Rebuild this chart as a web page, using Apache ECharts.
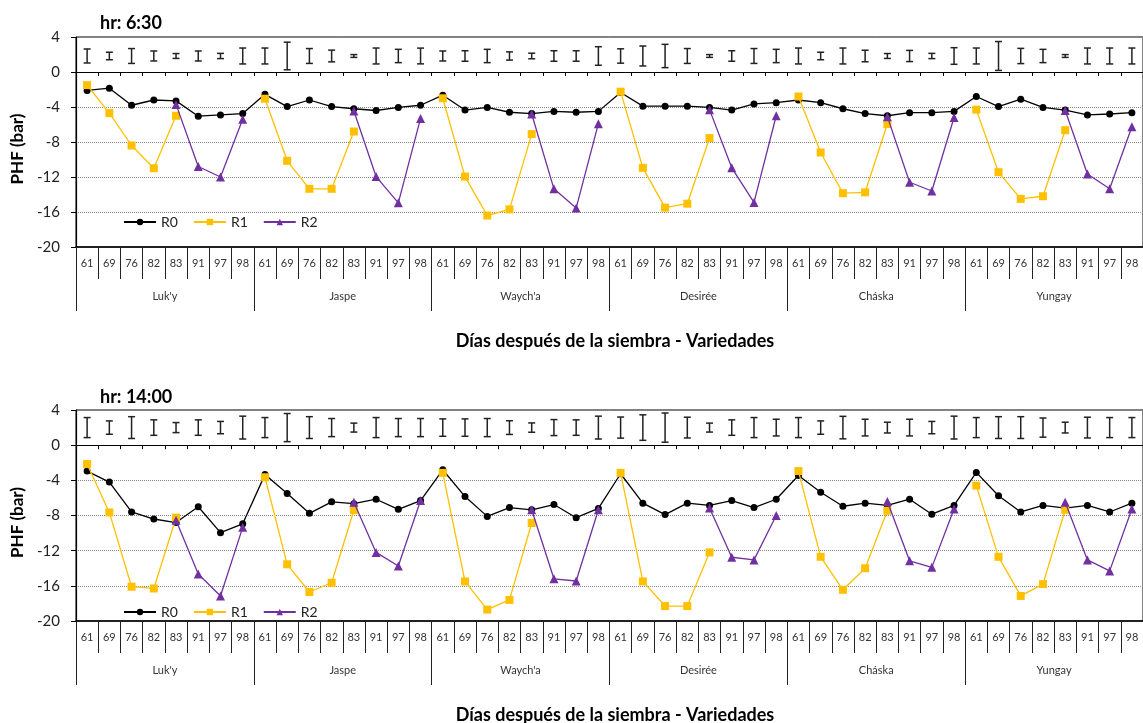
<!DOCTYPE html>
<html>
<head>
<meta charset="utf-8">
<script src="https://cdn.jsdelivr.net/npm/echarts@6/dist/echarts.min.js"></script>
<style>
  html, body { margin: 0; padding: 0; background: #fff; }
  #chart { width: 1143px; height: 723px; }
</style>
</head>
<body>
<div id="chart"></div>
<script>
// Sampling days and potato varieties (two-level category axis)
const days = ['61', '69', '76', '82', '83', '91', '97', '98'];
const varieties = ["Luk'y", 'Jaspe', "Waych'a", 'Desirée', 'Cháska', 'Yungay'];
const seriesNames = ['R0', 'R1', 'R2'];

// hr 6:30 — leaf water potential (bar)
const r0Morning = [
  -2.1, -1.85, -3.8, -3.2, -3.3, -5.05, -4.9, -4.75,
  -2.55, -3.95, -3.2, -3.95, -4.2, -4.4, -4.05, -3.8,
  -2.65, -4.35, -4.05, -4.6, -4.75, -4.5, -4.6, -4.5,
  -2.35, -3.9, -3.9, -3.9, -4.05, -4.35, -3.65, -3.5,
  -3.2, -3.5, -4.2, -4.75, -5.0, -4.65, -4.65, -4.5,
  -2.8, -3.95, -3.1, -4.05, -4.35, -4.9, -4.8, -4.65
];
const r1Morning = [
  -1.5, -4.7, -8.4, -11.0, -5.0, null, null, null,
  -3.05, -10.15, -13.35, -13.35, -6.8, null, null, null,
  -3.0, -11.95, -16.4, -15.7, -7.1, null, null, null,
  -2.25, -10.95, -15.5, -15.05, -7.55, null, null, null,
  -2.8, -9.2, -13.85, -13.75, -5.95, null, null, null,
  -4.3, -11.45, -14.5, -14.2, -6.65, null, null, null
];
const r2Morning = [
  null, null, null, null, -3.7, -10.8, -12.0, -5.4,
  null, null, null, null, -4.45, -11.95, -14.95, -5.3,
  null, null, null, null, -4.8, -13.35, -15.55, -5.9,
  null, null, null, null, -4.3, -10.95, -14.9, -5.0,
  null, null, null, null, -5.1, -12.6, -13.6, -5.2,
  null, null, null, null, -4.4, -11.65, -13.35, -6.25
];
// LSD bars drawn in the band above zero: centre and half-width
const lsdCentreMorning = 1.83;
const lsdHalfMorning = [
  0.8, 0.43, 0.85, 0.57, 0.28, 0.57, 0.3, 0.91,
  0.91, 1.58, 0.85, 0.67, 0.16, 0.91, 0.76, 0.9,
  0.57, 0.6, 0.76, 0.47, 0.32, 0.6, 0.6, 1.06,
  0.82, 1.14, 1.33, 0.85, 0.16, 0.6, 0.85, 0.76,
  0.91, 0.43, 0.91, 0.66, 0.28, 0.64, 0.3, 0.95,
  0.91, 1.65, 0.87, 0.76, 0.16, 0.91, 0.91, 0.91
];

// hr 14:00
const r0Afternoon = [
  -2.95, -4.2, -7.6, -8.4, -8.8, -7.0, -9.95, -8.95,
  -3.35, -5.5, -7.75, -6.45, -6.65, -6.15, -7.3, -6.3,
  -2.8, -5.85, -8.1, -7.1, -7.35, -6.75, -8.25, -7.2,
  -3.25, -6.6, -7.9, -6.6, -6.85, -6.3, -7.1, -6.15,
  -3.45, -5.35, -6.95, -6.6, -6.85, -6.15, -7.85, -6.85,
  -3.1, -5.75, -7.6, -6.85, -7.15, -6.85, -7.6, -6.6
];
const r1Afternoon = [
  -2.15, -7.65, -16.1, -16.3, -8.25, null, null, null,
  -3.65, -13.55, -16.7, -15.65, -7.4, null, null, null,
  -3.15, -15.5, -18.7, -17.6, -8.85, null, null, null,
  -3.15, -15.5, -18.3, -18.3, -12.2, null, null, null,
  -2.95, -12.7, -16.45, -14.0, -7.45, null, null, null,
  -4.6, -12.7, -17.15, -15.8, -7.35, null, null, null
];
const r2Afternoon = [
  null, null, null, null, -8.55, -14.65, -17.15, -9.35,
  null, null, null, null, -6.5, -12.2, -13.75, -6.3,
  null, null, null, null, -7.35, -15.2, -15.45, -7.35,
  null, null, null, null, -7.15, -12.75, -13.05, -8.0,
  null, null, null, null, -6.4, -13.15, -13.9, -7.25,
  null, null, null, null, -6.5, -13.05, -14.3, -7.25
];
const lsdCentreAfternoon = 2.0;
const lsdHalfAfternoon = [
  1.14, 0.76, 1.24, 0.88, 0.57, 0.88, 0.7, 1.3,
  1.14, 1.6, 1.24, 1.03, 0.51, 1.14, 1.03, 1.03,
  0.99, 0.99, 1.03, 0.78, 0.53, 0.91, 0.88, 1.3,
  1.2, 1.45, 1.66, 1.18, 0.51, 0.88, 1.14, 0.95,
  1.14, 0.76, 1.28, 0.95, 0.61, 0.95, 0.7, 1.3,
  1.14, 1.24, 1.24, 1.09, 0.61, 1.18, 1.14, 1.14
];

const FONT = 'Lato, "Noto Sans", sans-serif';
const categories = varieties.flatMap(v => days.map(d => v + '|' + d));

const panels = [
  { top: 37, height: 210, title: 'hr: 6:30', titleTop: 9, legendTop: 210, axisTitleTop: 327,
    r0: r0Morning, r1: r1Morning, r2: r2Morning, lsdCentre: lsdCentreMorning, lsdHalf: lsdHalfMorning },
  { top: 410, height: 211, title: 'hr: 14:00', titleTop: 383, legendTop: 600, axisTitleTop: 701,
    r0: r0Afternoon, r1: r1Afternoon, r2: r2Afternoon, lsdCentre: lsdCentreAfternoon, lsdHalf: lsdHalfAfternoon }
];

const option = {
  animation: false,
  backgroundColor: '#fff',
  textStyle: { fontFamily: FONT },
  title: [], grid: [], xAxis: [], yAxis: [], legend: [], series: []
};

function lsdBar(params, api) {
  const x = api.value(0);
  const lo = api.coord([x, api.value(1)]);
  const hi = api.coord([x, api.value(2)]);
  const cap = 3.5;
  const style = { stroke: '#222', lineWidth: 1.5 };
  return {
    type: 'group',
    children: [
      { type: 'line', shape: { x1: lo[0], y1: lo[1], x2: hi[0], y2: hi[1] }, style },
      { type: 'line', shape: { x1: lo[0] - cap, y1: lo[1], x2: lo[0] + cap, y2: lo[1] }, style },
      { type: 'line', shape: { x1: hi[0] - cap, y1: hi[1], x2: hi[0] + cap, y2: hi[1] }, style }
    ]
  };
}

panels.forEach((p, gi) => {
  option.title.push({
    text: p.title, left: 95, top: p.titleTop,
    textStyle: { fontFamily: FONT, fontSize: 18, fontWeight: 'bold', color: '#000' }
  });
  option.title.push({
    text: 'Días después de la siembra - Variedades', left: 610, textAlign: 'center', top: p.axisTitleTop,
    textStyle: { fontFamily: FONT, fontSize: 18, fontWeight: 'bold', color: '#000' }
  });
  option.grid.push({
    left: 76, top: p.top, width: 1068, height: p.height,
    show: true, borderColor: '#000', borderWidth: 1, backgroundColor: 'transparent'
  });
  // zero line with short ticks
  option.xAxis.push({
    gridIndex: gi, type: 'category', data: categories, position: 'bottom',
    axisLine: { onZero: true, lineStyle: { color: '#000', width: 1.2 } },
    axisTick: { show: true, interval: 0, length: 4, lineStyle: { color: '#000' } },
    axisLabel: { show: false }, splitLine: { show: false }
  });
  // day labels
  option.xAxis.push({
    gridIndex: gi, type: 'category', data: categories, position: 'bottom',
    axisLine: { onZero: false, lineStyle: { color: '#000', width: 1.5 } },
    axisTick: { show: true, interval: 0, length: 32, lineStyle: { color: '#222', width: 1 } },
    axisLabel: { interval: 0, margin: 11, fontSize: 11, color: '#333', fontFamily: FONT,
                 formatter: v => v.split('|')[1] },
    splitLine: { show: false }
  });
  // variety labels
  option.xAxis.push({
    gridIndex: gi, type: 'category', data: varieties, position: 'bottom',
    axisLine: { show: false, onZero: false },
    axisTick: { show: true, interval: 0, length: 64, lineStyle: { color: '#222', width: 1 } },
    axisLabel: { interval: 0, margin: 44, fontSize: 11, color: '#333', fontFamily: FONT },
    splitLine: { show: false }
  });
  option.yAxis.push({
    gridIndex: gi, type: 'value', min: -20, max: 4, interval: 4,
    axisLine: { show: true, onZero: false, lineStyle: { color: '#000', width: 1.2 } },
    axisTick: { show: true, length: 5, lineStyle: { color: '#000' } },
    axisLabel: { fontSize: 15, color: '#222', margin: 16, fontFamily: FONT },
    splitLine: { show: true, lineStyle: { type: 'dotted', color: '#888', width: 1 } },
    name: 'PHF (bar)', nameLocation: 'middle', nameGap: 49,
    nameTextStyle: { fontFamily: FONT, fontSize: 17, fontWeight: 'bold', color: '#000',
                     padding: [0, 14, 0, 0] }
  });
  option.legend.push({
    data: seriesNames, left: 118, top: p.legendTop, orient: 'horizontal',
    itemWidth: 32, itemHeight: 8, itemGap: 15,
    textStyle: { fontFamily: FONT, fontSize: 14, color: '#222' }
  });

  const xi = gi * 3 + 1;
  option.series.push({
    type: 'custom', name: 'LSD', xAxisIndex: xi, yAxisIndex: gi, silent: true,
    data: p.lsdHalf.map((h, i) => [i, p.lsdCentre - h, p.lsdCentre + h]),
    encode: { x: 0, y: [1, 2] },
    renderItem: lsdBar, z: 3
  });
  option.series.push({
    type: 'line', name: 'R0', xAxisIndex: xi, yAxisIndex: gi, data: p.r0,
    symbol: 'circle', symbolSize: 7, connectNulls: false,
    lineStyle: { color: '#000', width: 1.3 }, itemStyle: { color: '#000' }, z: 4
  });
  option.series.push({
    type: 'line', name: 'R1', xAxisIndex: xi, yAxisIndex: gi, data: p.r1,
    symbol: 'rect', symbolSize: 8, connectNulls: false,
    lineStyle: { color: '#FFC000', width: 1.3 }, itemStyle: { color: '#FFC000' }, z: 5
  });
  option.series.push({
    type: 'line', name: 'R2', xAxisIndex: xi, yAxisIndex: gi, data: p.r2,
    symbol: 'triangle', symbolSize: 9, connectNulls: false,
    lineStyle: { color: '#7030A0', width: 1.3 }, itemStyle: { color: '#7030A0' }, z: 6
  });
});

const chart = echarts.init(document.getElementById('chart'), null, { renderer: 'canvas' });
chart.setOption(option);
</script>
</body>
</html>
